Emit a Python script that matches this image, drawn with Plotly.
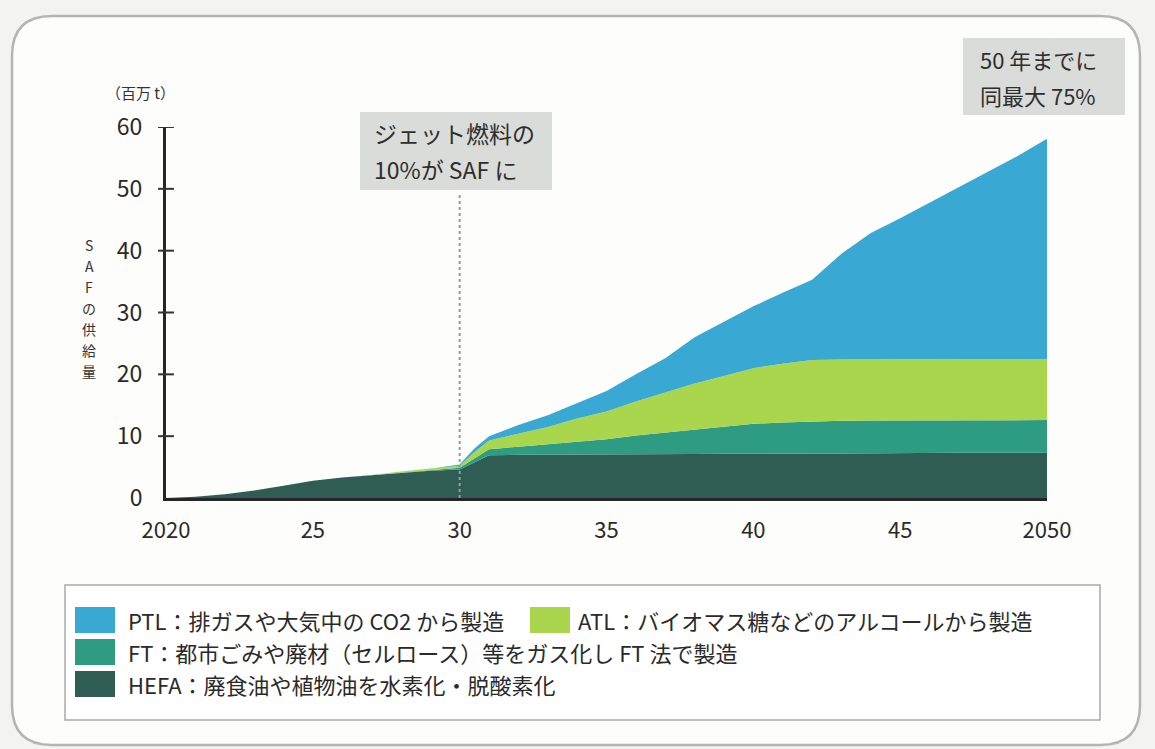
import plotly.graph_objects as go

# ---- data (百万t) ----
years = [2020, 2021, 2022, 2023, 2024, 2025, 2026, 2027, 2028, 2029, 2030, 2030.5,
         2031, 2032, 2033, 2034, 2035, 2036, 2037, 2038, 2039, 2040,
         2041, 2042, 2043, 2044, 2045, 2046, 2047, 2048, 2049, 2050]
hefa = [0, 0.2, 0.6, 1.2, 2.0, 2.8, 3.3, 3.7, 4.1, 4.4, 4.6, 5.7,
        6.9, 7.0, 7.0, 7.05, 7.1, 7.1, 7.1, 7.1, 7.15, 7.2,
        7.2, 7.2, 7.2, 7.25, 7.25, 7.25, 7.3, 7.3, 7.3, 7.3]
ft = [0, 0, 0, 0, 0, 0, 0, 0, 0.1, 0.15, 0.3, 0.7,
      1.0, 1.3, 1.7, 2.1, 2.4, 3.0, 3.5, 4.0, 4.4, 4.8,
      5.0, 5.2, 5.3, 5.3, 5.3, 5.3, 5.3, 5.3, 5.3, 5.3]
atl = [0, 0, 0, 0, 0, 0, 0, 0, 0.1, 0.15, 0.3, 1.0,
       1.4, 2.1, 2.8, 3.7, 4.5, 5.5, 6.5, 7.4, 8.2, 9.0,
       9.5, 9.9, 9.9, 9.9, 9.9, 9.9, 9.9, 9.9, 9.9, 9.9]
ptl = [0, 0, 0, 0, 0, 0, 0, 0, 0, 0.05, 0.2, 0.6,
       0.7, 1.4, 1.9, 2.45, 3.3, 4.4, 5.5, 7.5, 8.75, 10.0,
       11.5, 13.0, 17.1, 20.4, 22.8, 25.3, 27.8, 30.3, 32.8, 35.6]

series_names = ["HEFA", "FT", "ATL", "PTL"]
series_vals = [hefa, ft, atl, ptl]
colors = ["#2f5d53", "#2d9c82", "#a9d64d", "#39a9d4"]

legend_texts = [
    "HEFA：廃食油や植物油を水素化・脱酸素化",
    "FT：都市ごみや廃材（セルロース）等をガス化し FT 法で製造",
    "ATL：バイオマス糖などのアルコールから製造",
    "PTL：排ガスや大気中の CO2 から製造",
]

xtick_vals = [2020, 2025, 2030, 2035, 2040, 2045, 2050]
xtick_text = ["2020", "25", "30", "35", "40", "45", "2050"]
ytick_vals = [0, 10, 20, 30, 40, 50, 60]
ytitle_chars = ["S", "A", "F", "の", "供", "給", "量"]
callout1_lines = ["ジェット燃料の", "10%が SAF に"]
callout2_lines = ["50 年までに", "同最大 75%"]

FONT = "Noto Sans CJK JP, Noto Sans, sans-serif"

# ---- layout geometry (pixels) ----
W, H = 1155, 749
L, R, T, B = 166, 1047, 127, 498


def px(x):
    return (x - L) / (R - L)


def py(y):
    return (B - y) / (B - T)


fig = go.Figure()
for name, vals, col in zip(series_names, series_vals, colors):
    fig.add_trace(go.Scatter(
        x=years, y=vals, name=name, stackgroup="one", mode="lines",
        line=dict(width=0, color=col), fillcolor=col, showlegend=False,
        hoverinfo="x+y+name"))

shapes = []
annotations = []
# outer rounded frame
x0, y0, x1, y1, r = 12, 16, 1140, 745, 40
path = (f"M {px(x0+r)},{py(y0)} L {px(x1-r)},{py(y0)} Q {px(x1)},{py(y0)} {px(x1)},{py(y0+r)} "
        f"L {px(x1)},{py(y1-r)} Q {px(x1)},{py(y1)} {px(x1-r)},{py(y1)} "
        f"L {px(x0+r)},{py(y1)} Q {px(x0)},{py(y1)} {px(x0)},{py(y1-r)} "
        f"L {px(x0)},{py(y0+r)} Q {px(x0)},{py(y0)} {px(x0+r)},{py(y0)} Z")
shapes.append(dict(type="path", xref="paper", yref="paper", path=path,
                   line=dict(color="#b4b4b2", width=2.5), fillcolor="#fdfdfb", layer="below"))
# legend frame
shapes.append(dict(type="rect", xref="paper", yref="paper",
                   x0=px(65), x1=px(1100), y0=py(720), y1=py(585),
                   line=dict(color="#a8aaa8", width=1.5), fillcolor="#ffffff", layer="below"))
# dotted line at 2030
shapes.append(dict(type="line", xref="x", yref="y", x0=2030, x1=2030, y0=0, y1=49.5,
                   line=dict(color="#9a9a9a", width=2, dash="dot"), layer="above"))
# y ticks crossing the axis
for v in ytick_vals[1:]:
    shapes.append(dict(type="line", xref="x domain", yref="y", x0=-0.009, x1=0.009, y0=v, y1=v,
                       line=dict(color="#333333", width=2)))

# legend swatches + texts
legend_items = [
    (legend_texts[3], colors[3], 75, 607, 126),
    (legend_texts[2], colors[2], 530, 607, 576),
    (legend_texts[1], colors[1], 75, 639, 126),
    (legend_texts[0], colors[0], 75, 671, 126),
]
for txt, col, sx, sy, tx in legend_items:
    shapes.append(dict(type="rect", xref="paper", yref="paper",
                       x0=px(sx), x1=px(sx + 40), y0=py(sy + 26), y1=py(sy),
                       line=dict(width=0), fillcolor=col))
    annotations.append(dict(xref="paper", yref="paper", x=px(tx), y=py(sy + 13),
                            text=txt, showarrow=False, xanchor="left", yanchor="middle",
                            font=dict(family=FONT, size=22, color="#2a2a2a")))

# unit label
annotations.append(dict(xref="paper", yref="paper", x=px(140), y=py(93), text="（百万 t）",
                        showarrow=False, xanchor="center", yanchor="middle",
                        font=dict(family=FONT, size=15, color="#333333")))
# vertical y-axis title, one character per line
ypos = [245, 266, 287, 308, 329, 350, 371]
for ch, yy in zip(ytitle_chars, ypos):
    annotations.append(dict(xref="paper", yref="paper", x=px(89), y=py(yy), text=ch,
                            showarrow=False, xanchor="center", yanchor="middle",
                            font=dict(family=FONT, size=14, color="#333333")))

# callout boxes (background rects + one annotation per line)
callouts = [
    (callout1_lines, (360, 112, 552, 190), 372, [133, 169], 23),
    (callout2_lines, (963, 38, 1125, 115), 978, [59, 95], 22),
]
for lines, (bx0, by0, bx1, by1), tx, ly, fs in callouts:
    shapes.append(dict(type="rect", xref="paper", yref="paper",
                       x0=px(bx0), x1=px(bx1), y0=py(by1), y1=py(by0),
                       line=dict(width=0), fillcolor="#d9dcd9", layer="above"))
    for line_txt, yy in zip(lines, ly):
        annotations.append(dict(xref="paper", yref="paper", x=px(tx), y=py(yy),
                                text=line_txt, showarrow=False, xanchor="left", yanchor="middle",
                                font=dict(family=FONT, size=fs, color="#2e2e2e")))

fig.update_layout(
    width=W, height=H,
    margin=dict(l=L, r=W - R, t=T, b=H - B, pad=0),
    paper_bgcolor="#f3f3f1", plot_bgcolor="rgba(0,0,0,0)",
    font=dict(family=FONT, color="#2a2a2a"),
    shapes=shapes, annotations=annotations,
    xaxis=dict(range=[2020, 2050], tickvals=xtick_vals, ticktext=xtick_text,
               showgrid=False, zeroline=False, showline=True, linewidth=3, linecolor="#262626",
               ticks="", ticklabelstandoff=11, tickfont=dict(family=FONT, size=22, color="#2a2a2a"),
               fixedrange=True),
    yaxis=dict(range=[0, 60], tickvals=ytick_vals, showgrid=False, zeroline=False,
               showline=True, linewidth=3, linecolor="#262626", ticks="",
               ticklabelstandoff=16, tickfont=dict(family=FONT, size=23, color="#2a2a2a"),
               fixedrange=True),
    showlegend=False,
)

fig.write_html("out.html")
